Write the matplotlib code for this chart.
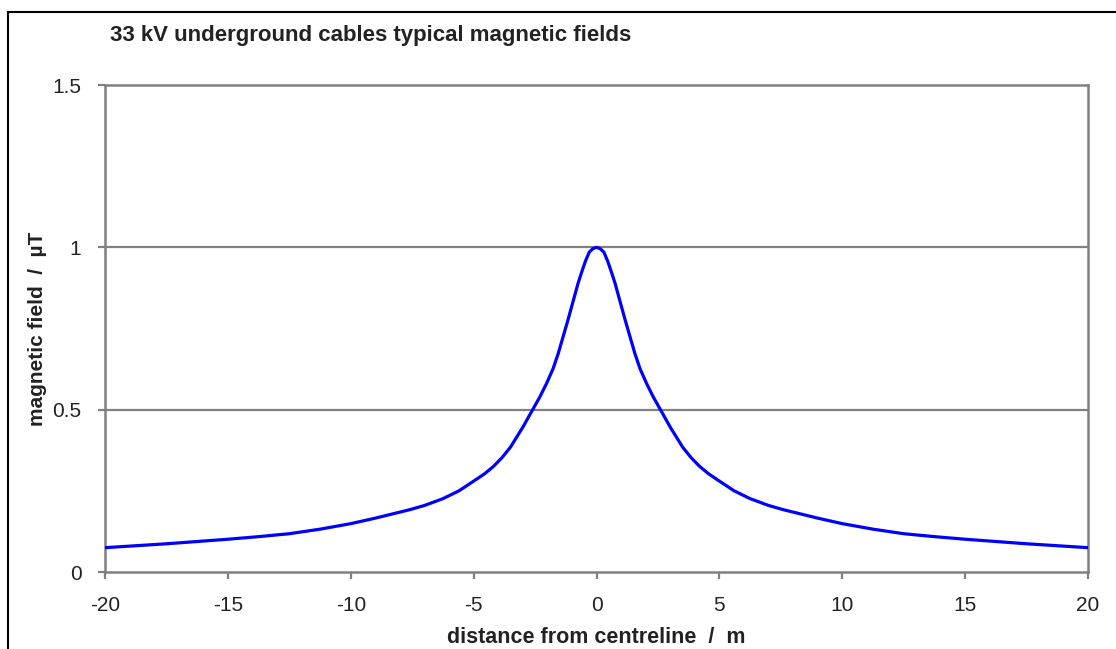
import matplotlib
matplotlib.use("Agg")
import matplotlib.pyplot as plt
from matplotlib.lines import Line2D

plt.rcParams['font.family'] = ['Liberation Sans', 'DejaVu Sans']

# distance from centreline (m), right half; left half is the mirror
dist_half = [0, 0.15, 0.3, 0.45, 0.6, 0.75, 0.95, 1.15, 1.36, 1.56, 1.77,
             2.04, 2.31, 2.6, 3.0, 3.5, 3.85, 4.2, 4.55, 4.9, 5.6, 6.25, 7.0,
             7.6, 8.3, 9, 10, 11.25, 12.5, 13.75, 15, 17.5, 20]
# magnetic field (uT)
field_half = [1.0, 0.996, 0.985, 0.958, 0.925, 0.89, 0.835, 0.78, 0.725,
              0.673, 0.626, 0.58, 0.539, 0.5, 0.446, 0.385, 0.352, 0.325,
              0.303, 0.285, 0.25, 0.226, 0.205, 0.192, 0.179, 0.166, 0.149,
              0.132, 0.118, 0.109, 0.101, 0.087, 0.075]

x_ticks = [-20, -15, -10, -5, 0, 5, 10, 15, 20]
y_ticks = [0, 0.5, 1, 1.5]
y_labels = ['0', '0.5', '1', '1.5']

dist = [-d for d in dist_half[::-1]] + dist_half[1:]
field = field_half[::-1] + field_half[1:]

fig = plt.figure(figsize=(11.16, 6.49), dpi=100)
ax = fig.add_axes([0.0941, 0.1186, 0.8809, 0.7504])

grey = '#808080'
for y in y_ticks[1:-1]:
    ax.axhline(y, color=grey, lw=1.6, zorder=1)

ax.plot(dist, field, color='#0000ff', lw=2.3, zorder=3,
        solid_joinstyle='round', solid_capstyle='round')

ax.set_xlim(-20, 20)
ax.set_ylim(0, 1.5)
ax.set_xticks(x_ticks)
ax.set_xticklabels([str(t) for t in x_ticks])
ax.set_yticks(y_ticks)
ax.set_yticklabels(y_labels)
for s in ax.spines.values():
    s.set_color(grey)
    s.set_linewidth(1.8)
ax.tick_params(axis='both', colors=grey, width=1.6, length=5, labelsize=15,
               labelcolor='#222222')
ax.tick_params(axis='x', pad=12)
ax.tick_params(axis='y', pad=12)

ax.set_xlabel('distance from centreline  /  m', fontsize=15.5, fontweight='bold',
              color='#222222', labelpad=9)
ax.set_ylabel('magnetic field  /  µT', fontsize=15, fontweight='bold',
              color='#222222', labelpad=4)

fig.text(110 / 1116, 1 - 35 / 649, '33 kV underground cables typical magnetic fields',
         fontsize=16, fontweight='bold', color='#222222', va='center', ha='left')

# outer frame (left and top edges visible)
fig.add_artist(Line2D([8 / 1116, 8 / 1116], [0, 1 - 12 / 649], color='black', lw=1.5))
fig.add_artist(Line2D([8 / 1116, 1], [1 - 12 / 649, 1 - 12 / 649], color='black', lw=1.5))

fig.savefig('out.png', dpi=100)
